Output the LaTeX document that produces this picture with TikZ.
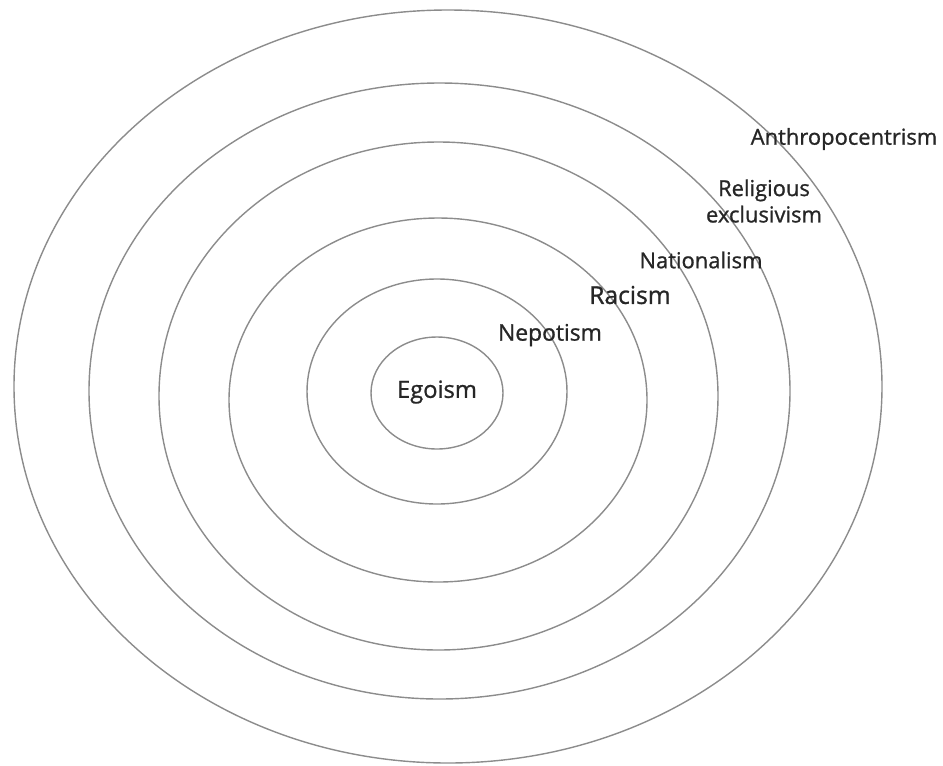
\documentclass[tikz,border=0pt]{standalone}
\usepackage{fontspec}
\setmainfont[FakeBold=1]{Open Sans}
\usetikzlibrary{positioning}

\begin{document}
\begin{tikzpicture}[x=0.02cm,y=-0.02cm]
\tikzset{ring/.style = {draw=black!45,line width=0.8pt}}
\tikzset{ringtext/.style = {text=black!85,inner sep=0pt,font=\fontsize{12.5}{15}\selectfont}}
\useasboundingbox (0,0) rectangle (943,765);

\draw[ring] (437,393) ellipse [x radius=66, y radius=56];
\draw[ring] (437,391.5) ellipse [x radius=130, y radius=112.5];
\draw[ring] (438,400) ellipse [x radius=209, y radius=182];
\draw[ring] (438.5,396) ellipse [x radius=279.5, y radius=254];
\draw[ring] (439.5,391) ellipse [x radius=350.5, y radius=308];
\draw[ring] (448,386.5) ellipse [x radius=434, y radius=376.5];

\node[ringtext,font=\fontsize{13.5}{16}\selectfont] (ego) at (437,392) {Egoism};
\node[ringtext,font=\fontsize{13}{15}\selectfont] (nep) at (550,335) {Nepotism};
\node[ringtext,font=\fontsize{14}{16}\selectfont] (rac) at (630,295) {Racism};
\node[ringtext] (nat) at (701,260) {Nationalism};
\node[ringtext,align=center] (rel) at (764,201) {Religious\\exclusivism};
\node[ringtext] (ant) at (844,139) {Anthropocentrism};

\end{tikzpicture}
\end{document}
